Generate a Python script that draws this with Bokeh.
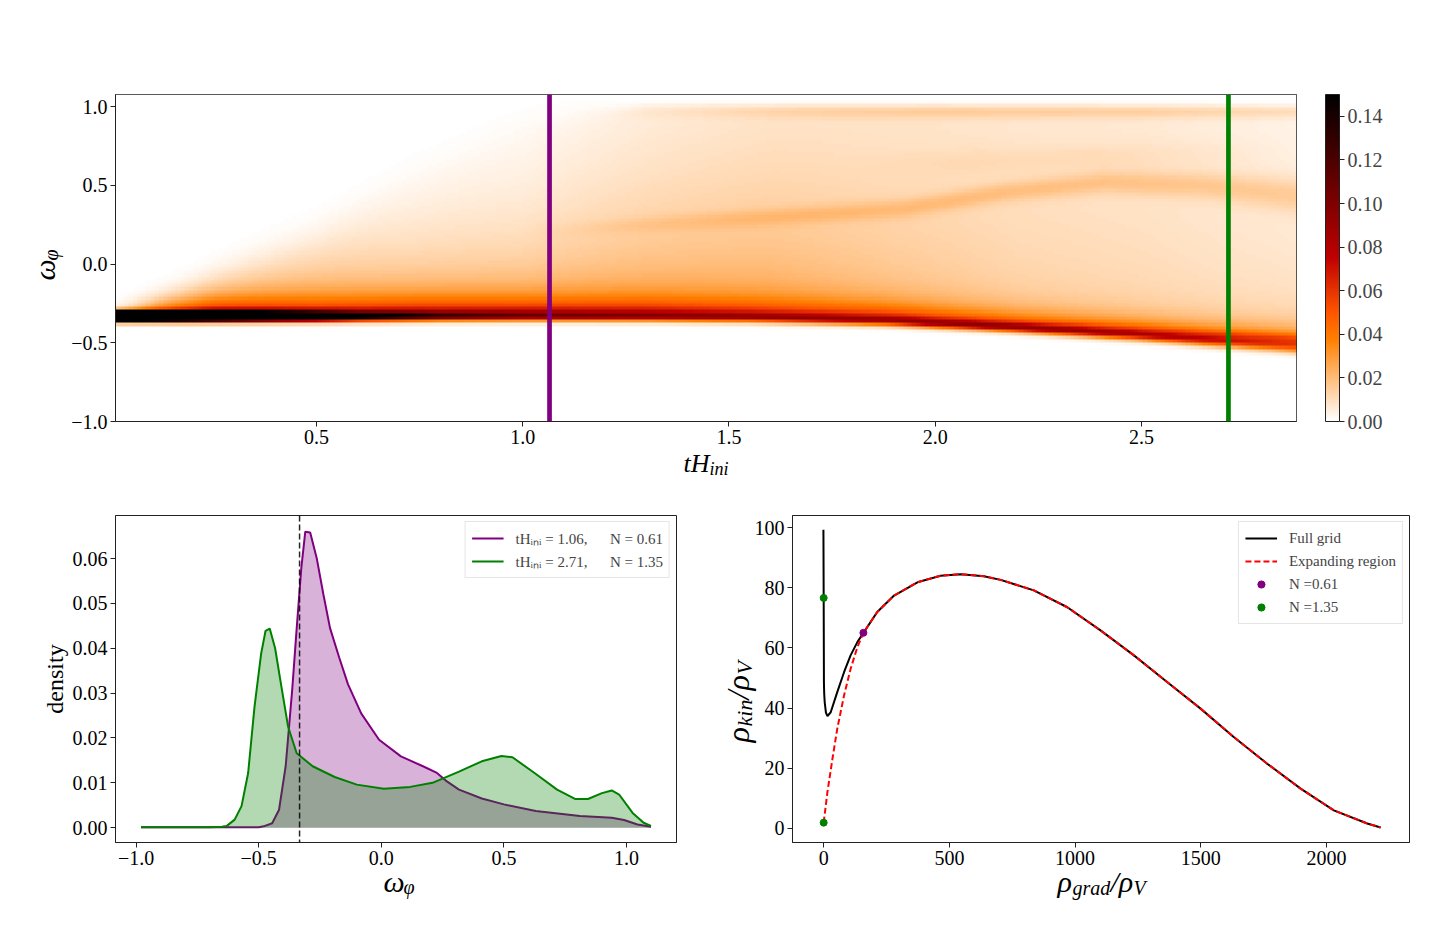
import numpy as np
from bokeh.plotting import figure
from bokeh.models import (LinearColorMapper, ColorBar, FixedTicker, Span, Legend,
                          LegendItem, PrintfTickFormatter)
from bokeh.core.properties import value
from bokeh.layouts import column, row
from bokeh.embed import file_html
from bokeh.resources import INLINE

FONT = "Liberation Serif"

# ---------------- data ----------------
t_lo, t_hi = 0.0127, 2.876
w_lo, w_hi = -1.0, 1.078
n_t_bins, n_w_bins = 276, 100

band_t = [0.01, 0.2, 0.4, 0.6, 0.8, 1.0, 1.3, 1.55, 1.87, 2.17, 2.33, 2.49, 2.65, 2.81, 2.88]
band_c = [-0.335, -0.335, -0.334, -0.333, -0.331, -0.330, -0.332, -0.338, -0.358, -0.40,
          -0.425, -0.45, -0.48, -0.507, -0.52]
band_a = [0.60, 0.45, 0.30, 0.17, 0.125, 0.105, 0.095, 0.090, 0.088, 0.090, 0.088, 0.080,
          0.072, 0.060, 0.055]
band_s = [0.019, 0.020, 0.021, 0.022, 0.022, 0.023, 0.023, 0.023, 0.023, 0.023, 0.024,
          0.025, 0.027, 0.030, 0.032]

diff_t = [0.01, 0.12, 0.25, 0.5, 0.75, 1.0, 1.3, 1.6, 1.9, 2.2, 2.5, 2.7, 2.88]
diff_near = [0.01, 0.03, 0.04, 0.04, 0.045, 0.045, 0.045, 0.04, 0.04, 0.035, 0.035, 0.035, 0.035]
diff_far = [0.0, 0.028, 0.04, 0.032, 0.030, 0.028, 0.028, 0.026, 0.020, 0.015, 0.013, 0.012, 0.012]
diff_len = [0.1, 0.12, 0.18, 0.38, 0.42, 0.5, 0.8, 1.1, 1.4, 1.8, 2.0, 1.6, 1.2]
edge_t = [0.01, 0.12, 0.25, 0.5, 0.75, 1.0, 1.3, 2.88]
edge_w = [-0.28, -0.18, -0.03, 0.2, 0.6, 0.92, 1.012, 1.012]
edge_soft = [0.04, 0.05, 0.06, 0.08, 0.1, 0.08, 0.01, 0.01]

ridge_t = [1.0, 1.27, 1.55, 1.93, 2.17, 2.41, 2.65, 2.88]
ridge_c = [0.19, 0.243, 0.285, 0.35, 0.455, 0.518, 0.497, 0.433]
ridge_a = [0.0, 0.004, 0.007, 0.009, 0.010, 0.010, 0.010, 0.010]
ridge_s = [0.035, 0.035, 0.038, 0.042, 0.045, 0.05, 0.06, 0.08]

top_t = [1.1, 1.4, 1.7, 2.0, 2.5, 2.88]
top_c = [0.965, 0.965, 0.965, 0.965, 0.965, 0.965]
top_a = [0.0, 0.003, 0.006, 0.008, 0.008, 0.007]
top_s = [0.03, 0.03, 0.03, 0.03, 0.03, 0.03]

mid_t = [1.8, 2.1, 2.4, 2.7, 2.88]
mid_c = [0.62, 0.65, 0.68, 0.70, 0.70]
mid_a = [0.0, 0.0025, 0.003, 0.0015, 0.0]
mid_s = [0.06, 0.06, 0.06, 0.06, 0.06]

cbar_ticks = [0.0, 0.02, 0.04, 0.06, 0.08, 0.10, 0.12, 0.14]
t_marks = [1.065, 2.711]
mark_colors = ["purple", "green"]

omega_purple = [-0.98, -0.60, -0.50, -0.48, -0.445, -0.417, -0.39, -0.363, -0.345, -0.326,
                -0.31, -0.29, -0.263, -0.236, -0.209, -0.172, -0.136, -0.082, -0.009, 0.08,
                0.17, 0.227, 0.263, 0.317, 0.41, 0.50, 0.63, 0.81, 0.94, 0.99, 1.045, 1.10]
dens_purple = [0.0001, 0.0001, 0.0001, 0.0003, 0.0010, 0.0040, 0.0137, 0.0310, 0.0445, 0.0580,
               0.0660, 0.0658, 0.0600, 0.0520, 0.0445, 0.0380, 0.0320, 0.0255, 0.0196, 0.0159,
               0.0137, 0.0122, 0.0105, 0.0085, 0.0065, 0.0052, 0.0037, 0.0026, 0.0022, 0.0017,
               0.0007, 0.0002]
omega_green = [-0.98, -0.70, -0.65, -0.63, -0.598, -0.57, -0.543, -0.517, -0.49, -0.472,
               -0.455, -0.433, -0.406, -0.38, -0.345, -0.28, -0.19, -0.10, 0.01, 0.118,
               0.209, 0.317, 0.41, 0.49, 0.535, 0.625, 0.717, 0.79, 0.843, 0.90, 0.94, 0.97,
               1.025, 1.07, 1.10]
dens_green = [0.0001, 0.0001, 0.0002, 0.0004, 0.0018, 0.0048, 0.0122, 0.0270, 0.0388, 0.0439,
              0.0444, 0.0400, 0.0310, 0.0225, 0.0166, 0.0137, 0.0113, 0.0096, 0.0087, 0.0091,
              0.0100, 0.0125, 0.0148, 0.0160, 0.0157, 0.0122, 0.0085, 0.0064, 0.0064, 0.0077,
              0.0083, 0.0074, 0.0033, 0.0011, 0.0004]
omega_ref = [-0.3333]
legend_purple = "tH\u1d62\u2099\u1d62 = 1.06,\u2003\u2002N = 0.61"
legend_green = "tH\u1d62\u2099\u1d62 = 2.71,\u2003\u2002N = 1.35"

grad_full = [-1, 0, 1, 2, 4, 9, 15, 28, 54, 81, 107, 134, 158, 213, 280, 373, 465, 545, 637,
             704, 836, 969, 1101, 1234, 1367, 1499, 1632, 1764, 1897, 2029, 2162, 2215]
kin_full = [99.3, 76.6, 48.6, 45.0, 42.0, 38.5, 37.3, 38.6, 45.3, 51.9, 57.5, 61.9, 65.0,
            71.9, 77.4, 81.8, 84.0, 84.5, 83.8, 82.6, 79.1, 73.5, 65.8, 57.5, 48.6, 39.8,
            30.3, 21.5, 13.2, 6.0, 1.6, 0.3]
grad_exp = [0, 15, 35, 54, 81, 107, 134, 158, 213, 280, 373, 465, 545, 637, 704, 836, 969,
            1101, 1234, 1367, 1499, 1632, 1764, 1897, 2029, 2162, 2215]
kin_exp = [1.9, 12.1, 23.2, 33.1, 44.2, 53.0, 60.2, 65.0, 71.9, 77.4, 81.8, 84.0, 84.5, 83.8,
           82.6, 79.1, 73.5, 65.8, 57.5, 48.6, 39.8, 30.3, 21.5, 13.2, 6.0, 1.6, 0.3]
pt061_grad, pt061_kin = [158], [65.0]
pt135_grad, pt135_kin = [0, 0], [76.6, 1.9]

# ---------------- heat map construction ----------------
tc = t_lo + (np.arange(n_t_bins) + 0.5) * (t_hi - t_lo) / n_t_bins
wc = w_lo + (np.arange(n_w_bins) + 0.5) * (w_hi - w_lo) / n_w_bins
W = wc[:, None]


def at(kt, kv):
    return np.interp(tc, kt, kv)[None, :]


def sig(z):
    return 1.0 / (1.0 + np.exp(-z))


def gauss(kt, kc, ka, ks):
    return at(kt, ka) * np.exp(-0.5 * ((W - at(kt, kc)) / at(kt, ks)) ** 2)


c = at(band_t, band_c)
band = gauss(band_t, band_c, band_a, band_s)
d = W - c
diffuse = (at(diff_t, diff_near) * np.exp(-np.clip(d - 0.04, 0, None) / 0.07)
           + at(diff_t, diff_far) * np.exp(-np.clip(d, 0, None) / at(diff_t, diff_len)))
diffuse *= sig((d - 0.03) / 0.012)
extra = (gauss(ridge_t, ridge_c, ridge_a, ridge_s) + gauss(top_t, top_c, top_a, top_s)
         + gauss(mid_t, mid_c, mid_a, mid_s)) * sig((W - c - 0.05) / 0.02)
upper = sig((at(edge_t, edge_w) - W) / at(edge_t, edge_soft))
density = band + (diffuse + extra) * upper

FW, FH = 1181, 327
ci = (np.arange(FW) * n_t_bins // FW)
ri = (np.arange(FH) * n_w_bins // FH)
img = density[ri][:, ci].astype(np.float32)


def gist_heat_r(n=256):
    out = []
    for i in range(n):
        x = 1.0 - i / (n - 1)
        r = min(1.0, 1.5 * x)
        g = min(1.0, max(0.0, 2 * x - 1))
        b = min(1.0, max(0.0, 4 * x - 3))
        out.append("#%02x%02x%02x" % (round(r * 255), round(g * 255), round(b * 255)))
    return out


def style(p, size="20px"):
    p.grid.visible = False
    p.outline_line_color = "#222222"
    p.outline_line_width = 1
    for ax in (p.xaxis, p.yaxis):
        ax.axis_line_color = "#222222"
        ax.major_tick_in = 0
        ax.major_tick_out = 5
        ax.minor_tick_in = 0
        ax.minor_tick_out = 0
        ax.major_tick_line_color = "#222222"
        ax.major_label_text_font = FONT
        ax.major_label_text_font_size = size
        ax.major_label_text_color = "black"
        ax.major_label_standoff = 3


def glyph_label(p, xr, yr, fw, fh, px, py, text, size, angle=0.0, fstyle="italic",
                align="left"):
    # px from the frame's left edge, py up from the frame's bottom edge (pixels)
    x = xr[0] + px / fw * (xr[1] - xr[0])
    y = yr[0] + py / fh * (yr[1] - yr[0])
    p.text(x=[x], y=[y], text=[text], text_font=value(FONT), text_font_size=value(f"{size}px"),
           text_font_style=fstyle, angle=angle, text_align=align,
           text_baseline="alphabetic", text_color="black", level="overlay")


VERT = np.pi / 2

# ---------------- top: heat map ----------------
xr1, yr1 = (t_lo, t_hi), (w_lo, w_hi)
p1 = figure(frame_width=FW, frame_height=FH, x_range=xr1, y_range=yr1,
            output_backend="svg", toolbar_location=None,
            min_border_left=115, min_border_top=94, min_border_bottom=70, min_border_right=120)
mapper = LinearColorMapper(palette=gist_heat_r(), low=0.0, high=0.15)
p1.image(image=[img], x=t_lo, y=w_lo, dw=t_hi - t_lo, dh=w_hi - w_lo, color_mapper=mapper)
for tm, col in zip(t_marks, mark_colors):
    p1.add_layout(Span(location=tm, dimension="height", line_color=col, line_width=4.7))
style(p1)
p1.xaxis.ticker = FixedTicker(ticks=[0.5, 1.0, 1.5, 2.0, 2.5])
p1.xaxis.formatter = PrintfTickFormatter(format="%.1f")
p1.yaxis.ticker = FixedTicker(ticks=[-1.0, -0.5, 0.0, 0.5, 1.0])
p1.yaxis.major_label_overrides = {-1.0: "\u22121.0", -0.5: "\u22120.5", 0.0: "0.0",
                                  0.5: "0.5", 1.0: "1.0"}
cb = ColorBar(color_mapper=mapper, ticker=FixedTicker(ticks=cbar_ticks),
              formatter=PrintfTickFormatter(format="%.2f"),
              width=14, height=FH, location=(29, 0), margin=0, padding=0,
              major_label_text_font=FONT, major_label_text_font_size="20px",
              major_tick_in=0, major_tick_out=5, major_tick_line_color="#222222",
              bar_line_color="#222222", label_standoff=3, background_fill_alpha=0)
p1.add_layout(cb, "right")
glyph_label(p1, xr1, yr1, FW, FH, 568, -42, "tH", 26)
glyph_label(p1, xr1, yr1, FW, FH, 594, -47, "ini", 18)
glyph_label(p1, xr1, yr1, FW, FH, -71, 141, "\u03c9", 30, angle=VERT)
glyph_label(p1, xr1, yr1, FW, FH, -65, 161, "\u03c6", 20, angle=VERT)

# ---------------- bottom left: densities ----------------
FW2, FH2 = 561, 327
xr2, yr2 = (-1.084, 1.204), (-0.0033, 0.0696)
p2 = figure(frame_width=FW2, frame_height=FH2, x_range=xr2, y_range=yr2,
            output_backend="svg", toolbar_location=None,
            min_border_left=115, min_border_top=24, min_border_bottom=70, min_border_right=10)
lp = p2.line(omega_purple, dens_purple, line_color="purple", line_width=2)
p2.varea(x=omega_purple, y1=0, y2=dens_purple, fill_color="purple", fill_alpha=0.3)
lg = p2.line(omega_green, dens_green, line_color="green", line_width=2)
p2.varea(x=omega_green, y1=0, y2=dens_green, fill_color="green", fill_alpha=0.3)
p2.add_layout(Span(location=omega_ref[0], dimension="height", line_color="black",
                   line_alpha=0.85, line_dash="6 3", line_width=1.5))
style(p2)
p2.xaxis.ticker = FixedTicker(ticks=[-1.0, -0.5, 0.0, 0.5, 1.0])
p2.xaxis.major_label_overrides = {-1.0: "\u22121.0", -0.5: "\u22120.5", 0.0: "0.0",
                                  0.5: "0.5", 1.0: "1.0"}
p2.yaxis.ticker = FixedTicker(ticks=[0.0, 0.01, 0.02, 0.03, 0.04, 0.05, 0.06])
p2.yaxis.formatter = PrintfTickFormatter(format="%.2f")
leg2 = Legend(items=[LegendItem(label=legend_purple, renderers=[lp]),
                     LegendItem(label=legend_green, renderers=[lg])],
              location="top_right", margin=6, padding=6, spacing=3,
              glyph_width=32, glyph_height=18, label_height=20, label_standoff=12,
              label_text_font=FONT, label_text_font_size="15px",
              border_line_color="#cccccc", border_line_width=1, background_fill_alpha=0.8)
p2.add_layout(leg2)
glyph_label(p2, xr2, yr2, FW2, FH2, 268, -39, "\u03c9", 30)
glyph_label(p2, xr2, yr2, FW2, FH2, 288, -44, "\u03c6", 20)
glyph_label(p2, xr2, yr2, FW2, FH2, -61, FH2 / 2, "density", 24, angle=VERT,
            fstyle="normal", align="center")

# ---------------- bottom right: energy ratios ----------------
FW3, FH3 = 617, 327
xr3, yr3 = (-124.0, 2330.0), (-4.7, 104.0)
p3 = figure(frame_width=FW3, frame_height=FH3, x_range=xr3, y_range=yr3,
            output_backend="svg", toolbar_location=None,
            min_border_left=106, min_border_top=24, min_border_bottom=70, min_border_right=20)
lf = p3.line(grad_full, kin_full, line_color="black", line_width=2)
le = p3.line(grad_exp, kin_exp, line_color="red", line_width=2, line_dash="6 3")
s1 = p3.scatter(pt061_grad, pt061_kin, size=7, fill_color="purple", line_color="purple")
s2 = p3.scatter(pt135_grad, pt135_kin, size=7, fill_color="green", line_color="green")
style(p3)
p3.xaxis.ticker = FixedTicker(ticks=[0, 500, 1000, 1500, 2000])
p3.yaxis.ticker = FixedTicker(ticks=[0, 20, 40, 60, 80, 100])
leg3 = Legend(items=[LegendItem(label="Full grid", renderers=[lf]),
                     LegendItem(label="Expanding region", renderers=[le]),
                     LegendItem(label="N =0.61", renderers=[s1]),
                     LegendItem(label="N =1.35", renderers=[s2])],
              location="top_right", margin=6, padding=6, spacing=3,
              glyph_width=32, glyph_height=18, label_height=20, label_standoff=12,
              label_text_font=FONT, label_text_font_size="15px",
              border_line_color="#cccccc", border_line_width=1, background_fill_alpha=0.8)
p3.add_layout(leg3)
glyph_label(p3, xr3, yr3, FW3, FH3, 265, -39, "\u03c1", 30)
glyph_label(p3, xr3, yr3, FW3, FH3, 280, -45, "grad", 20)
glyph_label(p3, xr3, yr3, FW3, FH3, 318, -39, "/\u03c1", 30)
glyph_label(p3, xr3, yr3, FW3, FH3, 341, -45, "V", 20)
glyph_label(p3, xr3, yr3, FW3, FH3, -55, 100, "\u03c1", 32, angle=VERT)
glyph_label(p3, xr3, yr3, FW3, FH3, -48, 116, "kin", 22, angle=VERT)
glyph_label(p3, xr3, yr3, FW3, FH3, -55, 143, "/\u03c1", 32, angle=VERT)
glyph_label(p3, xr3, yr3, FW3, FH3, -48, 168, "V", 22, angle=VERT)

layout = column(p1, row(p2, p3))
open("out.html", "w").write(file_html(layout, INLINE))
